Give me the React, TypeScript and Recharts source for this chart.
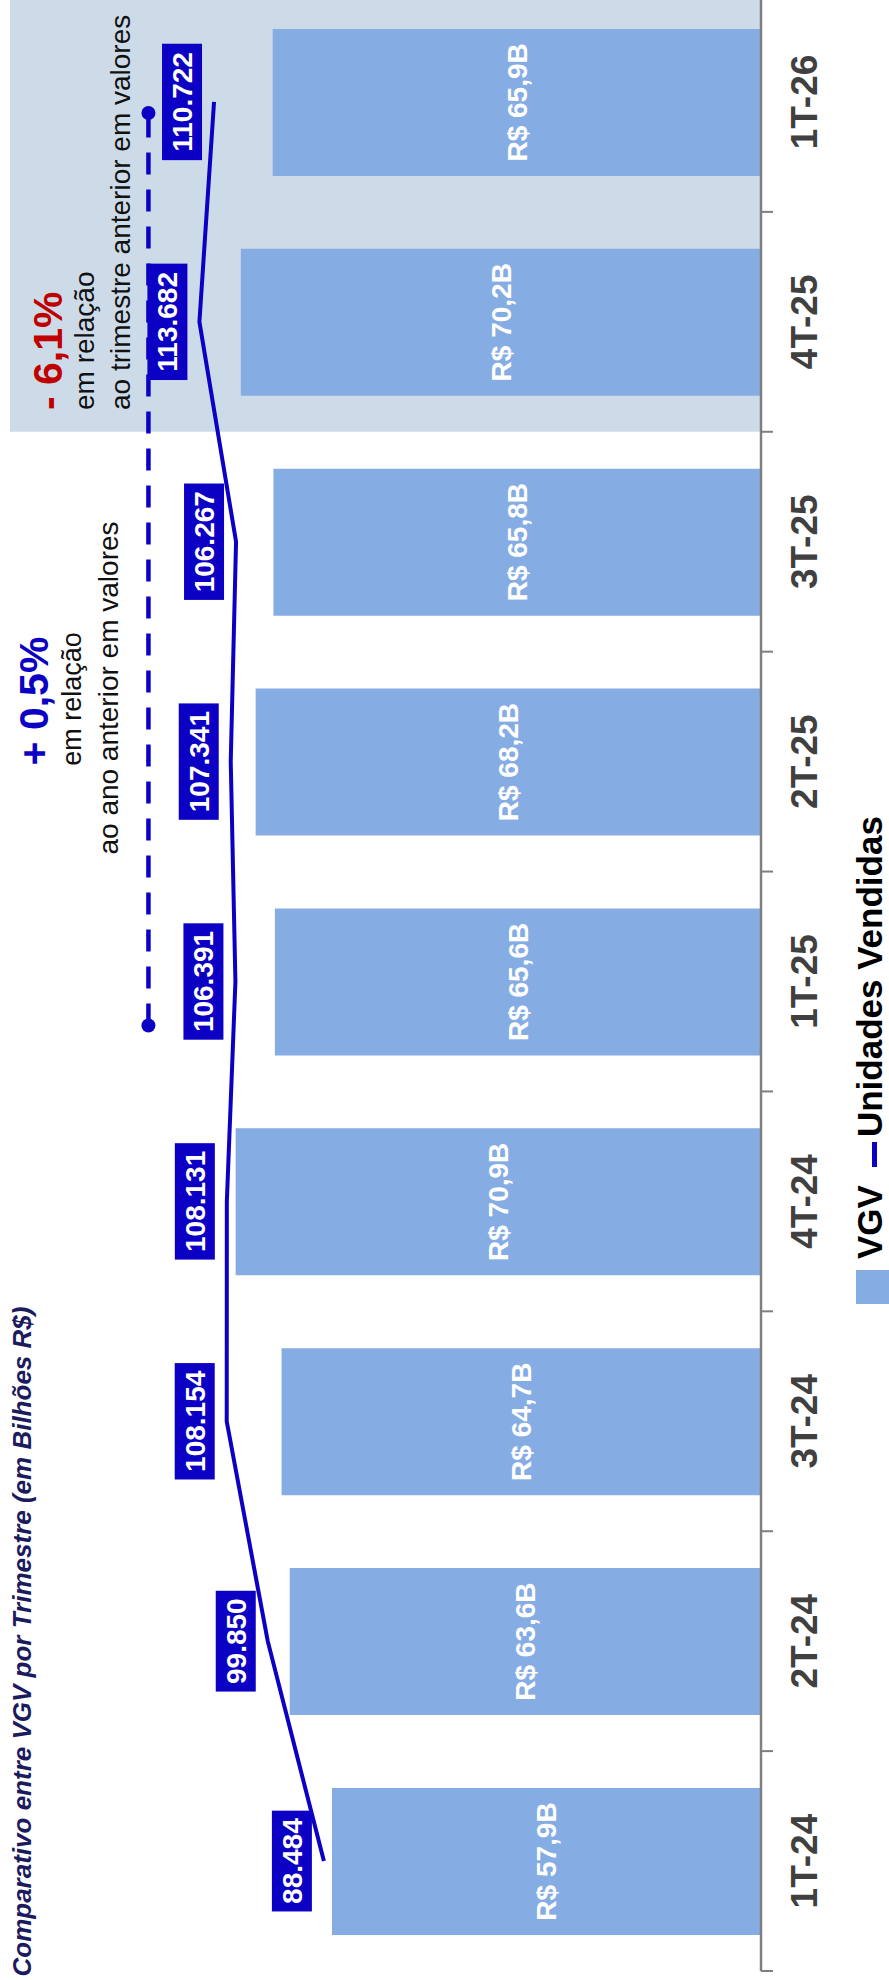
import {
  ComposedChart,
  Bar,
  Line,
  XAxis,
  YAxis,
  LabelList,
  ReferenceArea,
  ReferenceLine,
  ReferenceDot,
  Legend,
} from 'recharts';

const quarters = ['1T-24', '2T-24', '3T-24', '4T-24', '1T-25', '2T-25', '3T-25', '4T-25', '1T-26'];
const vgvBillions = [57.9, 63.6, 64.7, 70.9, 65.6, 68.2, 65.8, 70.2, 65.9];
const unitsSold = [88484, 99850, 108154, 108131, 106391, 107341, 106267, 113682, 110722];
const highlightFrom = '4T-25';
const highlightTo = '1T-26';

// year-over-year bracket: start/end on the quarter index scale (0 = centre of 1T-24),
// level on the units scale
const yoyStart = 3.8;
const yoyEnd = 7.95;
const yoyLevel = 124000;

const BLUE = '#0C00C4';
const BAR = '#86ACE4';
const SHADE = '#CDDBE9';
const FONT = "'Liberation Sans', Arial, Helvetica, sans-serif";

// landscape size (the whole thing is turned a quarter to the left on the page)
const W = 2000;
const H = 889;

const data = quarters.map((q, i) => ({ q, slot: i, vgv: vgvBillions[i], units: unitsSold[i] }));

function fmtUnits(v: number) {
  return String(v).replace(/\B(?=(\d{3})+(?!\d))/g, '.');
}

function fmtVgv(v: number) {
  return `R$ ${Number(v).toFixed(1).replace('.', ',')}B`;
}

function QuarterTick(props: any) {
  const { x, y, payload, width } = props;
  const half =
    typeof payload?.offset === 'number' && payload.offset > 0
      ? payload.offset
      : width / quarters.length / 2;
  return (
    <g>
      <line x1={x - half} x2={x - half} y1={y} y2={y + 12} stroke="#7f7f7f" strokeWidth={2} />
      <text
        x={x}
        y={y + 56}
        textAnchor="middle"
        fontSize={37}
        fontWeight={700}
        fill="#404040"
        fontFamily={FONT}
      >
        {payload.value}
      </text>
    </g>
  );
}

function UnitsBadge(props: any) {
  const { x, y, value } = props;
  if (x == null || y == null) return null;
  const text = fmtUnits(value);
  const digits = text.replace(/\D/g, '').length;
  const w = digits * 15.6 + (text.length - digits) * 7.8 + 15;
  const top = y - 12 - 40;
  return (
    <g>
      <rect x={x - w / 2} y={top} width={w} height={40} fill={BLUE} />
      <text
        x={x}
        y={top + 30}
        textAnchor="middle"
        fontSize={28}
        fontWeight={700}
        fill="#fff"
        fontFamily={FONT}
      >
        {text}
      </text>
    </g>
  );
}

function LegendContent({ payload }: any) {
  // bars first, then the line, as in the original legend
  const items = [...(payload || [])].sort(
    (a: any, b: any) => (a.type === 'line' ? 1 : 0) - (b.type === 'line' ? 1 : 0)
  );
  return (
    <div
      style={{
        display: 'flex',
        alignItems: 'flex-start',
        fontFamily: FONT,
        fontWeight: 700,
        fontSize: 35,
        lineHeight: '35px',
        color: '#000',
        whiteSpace: 'nowrap',
      }}
    >
      {items.map((it: any) => (
        <div key={it.value} style={{ display: 'flex', alignItems: 'flex-start', marginRight: 18 }}>
          {it.type === 'line' ? (
            <span style={{ width: 25, height: 5, background: it.color, marginTop: 20, marginRight: 5 }} />
          ) : (
            <span style={{ width: 34, height: 34, background: it.color, marginTop: 4, marginRight: 11 }} />
          )}
          <span>{it.value}</span>
        </div>
      ))}
    </div>
  );
}

export default function App() {
  return (
    <div
      style={{
        position: 'absolute',
        left: 0,
        top: 0,
        width: 889,
        height: 1980,
        overflow: 'hidden',
        background: '#fff',
      }}
    >
      <div
        style={{
          position: 'absolute',
          left: 0,
          top: 0,
          width: W,
          height: H,
          transformOrigin: '0 0',
          transform: 'translate(0px, 1980px) rotate(-90deg)',
        }}
      >
        <ComposedChart
          width={W}
          height={H}
          data={data}
          margin={{ top: 20, right: 12, bottom: 0, left: 9 }}
        >
          <XAxis
            xAxisId="cat"
            dataKey="q"
            height={128}
            interval={0}
            tickLine={false}
            tickSize={0}
            tickMargin={0}
            axisLine={{ stroke: '#7f7f7f', strokeWidth: 2.5 }}
            tick={<QuarterTick />}
          />
          <XAxis
            xAxisId="num"
            dataKey="slot"
            type="number"
            domain={[-0.5, 8.5]}
            allowDataOverflow
            hide
          />
          <YAxis yAxisId="vgv" domain={[0, 100]} hide />
          <YAxis yAxisId="units" domain={[0, 150000]} hide />
          <ReferenceArea
            xAxisId="cat"
            yAxisId="vgv"
            x1={highlightFrom}
            x2={highlightTo}
            y1={0}
            y2={101.35}
            ifOverflow="visible"
            fill={SHADE}
            fillOpacity={1}
            stroke="none"
          />
          <Bar
            xAxisId="cat"
            yAxisId="vgv"
            dataKey="vgv"
            name="VGV"
            fill={BAR}
            barSize={147}
            isAnimationActive={false}
          >
            <LabelList
              dataKey="vgv"
              position="center"
              formatter={(v: any) => fmtVgv(v)}
              fill="#fff"
              fontSize={28}
              fontWeight={700}
              fontFamily={FONT}
            />
          </Bar>
          <Line
            xAxisId="cat"
            yAxisId="units"
            dataKey="units"
            name="Unidades Vendidas"
            type="linear"
            stroke={BLUE}
            strokeWidth={4}
            dot={false}
            activeDot={false}
            legendType="line"
            isAnimationActive={false}
          >
            <LabelList dataKey="units" content={(p: any) => <UnitsBadge {...p} />} />
          </Line>
          <ReferenceLine
            xAxisId="num"
            yAxisId="units"
            segment={[
              { x: yoyStart, y: yoyLevel },
              { x: yoyEnd, y: yoyLevel },
            ]}
            stroke={BLUE}
            strokeWidth={4.5}
            strokeDasharray="22 15"
            ifOverflow="visible"
          />
          <ReferenceDot xAxisId="num" yAxisId="units" x={yoyStart} y={yoyLevel} r={7} fill={BLUE} stroke="none" ifOverflow="visible" />
          <ReferenceDot xAxisId="num" yAxisId="units" x={yoyEnd} y={yoyLevel} r={7} fill={BLUE} stroke="none" ifOverflow="visible" />
          <Legend
            layout="horizontal"
            verticalAlign="middle"
            align="center"
            wrapperStyle={{ left: 676, top: 852, width: 'auto' }}
            content={(p: any) => <LegendContent payload={p.payload} />}
          />
        </ComposedChart>
        <svg
          width={W}
          height={H}
          style={{ position: 'absolute', left: 0, top: 0, pointerEvents: 'none' }}
          fontFamily={FONT}
        >
          <text x={3.5} y={31} fontSize={26} fontWeight={700} fontStyle="italic" fill="#1B1B5E">
            Comparativo entre VGV por Trimestre (em Bilhões R$)
          </text>
          <text x={1279} y={48} textAnchor="middle" fontSize={41} fontWeight={700} fill={BLUE}>
            + 0,5%
          </text>
          <text x={1281} y={81} textAnchor="middle" fontSize={27} fill="#111">
            em relação
          </text>
          <text x={1292} y={118} textAnchor="middle" fontSize={28} fill="#111">
            ao ano anterior em valores
          </text>
          <text x={1570} y={62} fontSize={41} fontWeight={700} fill="#C00000">
            - 6,1%
          </text>
          <text x={1570} y={93.5} fontSize={28} fill="#111">
            em relação
          </text>
          <text x={1570} y={130} fontSize={28} fill="#111">
            ao trimestre anterior em valores
          </text>
        </svg>
      </div>
    </div>
  );
}
